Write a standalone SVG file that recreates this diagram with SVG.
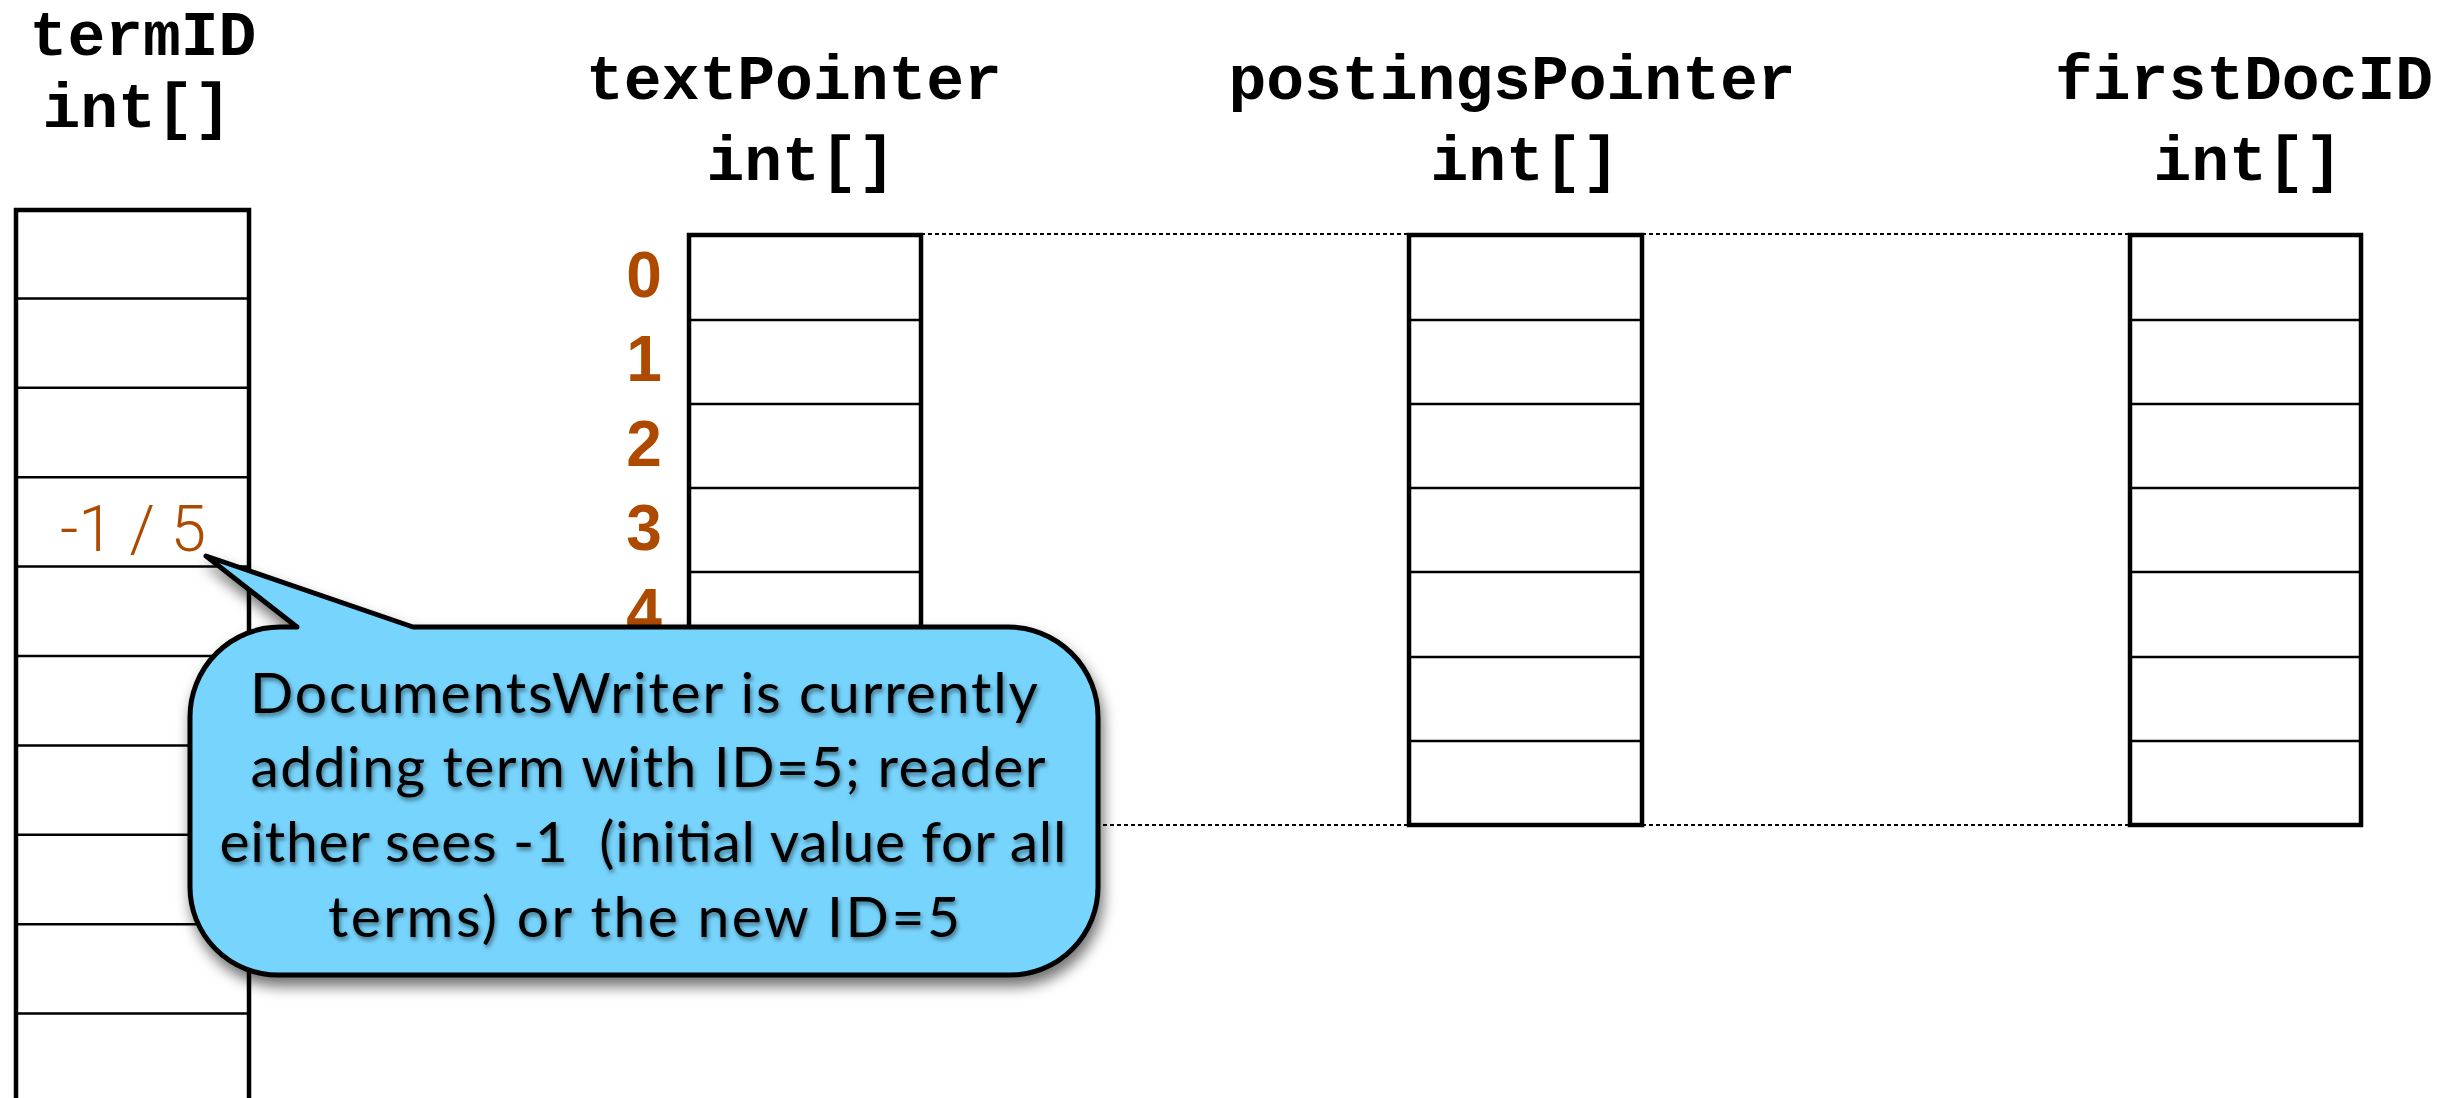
<svg xmlns="http://www.w3.org/2000/svg" width="2463" height="1098" viewBox="0 0 2463 1098">
<style>
.hdr{font-family:"Courier New","Nimbus Mono PS","FreeMono","Liberation Mono",monospace;font-weight:bold;font-size:63px;fill:#000;text-anchor:middle}
.idx{font-family:"Liberation Sans",Arial,sans-serif;font-weight:bold;font-size:64px;fill:#AE4A00;text-anchor:middle}
.val{font-family:Roboto,"Liberation Sans",sans-serif;font-weight:300;font-size:64px;fill:#AE4A00;text-anchor:middle}
.box{fill:#fff;stroke:#000;stroke-width:4.5}
.cell{stroke:#000;stroke-width:2.5}
.dot{stroke:#000;stroke-width:2;stroke-dasharray:4 3;fill:none}
.note{font-family:Lato,"Open Sans",sans-serif;font-size:57px;fill:#000;text-anchor:middle}
</style>
<defs>
<filter id="shadow" x="-10%" y="-20%" width="130%" height="150%">
<feDropShadow dx="3" dy="9" stdDeviation="7" flood-color="#000" flood-opacity="0.55"/>
</filter>
<filter id="tshadow" x="-5%" y="-30%" width="110%" height="160%">
<feDropShadow dx="1.5" dy="3" stdDeviation="2" flood-color="#000" flood-opacity="0.45"/>
</filter>
</defs>
<rect width="2463" height="1098" fill="#fff"/>

<g id="connectors">
<line class="dot" x1="921" y1="234" x2="2130" y2="234"/>
<line class="dot" x1="921" y1="825" x2="2130" y2="825"/>
</g>

<g id="termID">
<text class="hdr" x="143" y="55">termID</text>
<text class="hdr" x="137" y="127">int[]</text>
<rect class="box" x="16" y="210" width="233" height="920"/>
<line class="cell" x1="16" y1="298.4" x2="249" y2="298.4"/>
<line class="cell" x1="16" y1="387.8" x2="249" y2="387.8"/>
<line class="cell" x1="16" y1="477.2" x2="249" y2="477.2"/>
<line class="cell" x1="16" y1="566.6" x2="249" y2="566.6"/>
<line class="cell" x1="16" y1="656" x2="249" y2="656"/>
<line class="cell" x1="16" y1="745.4" x2="249" y2="745.4"/>
<line class="cell" x1="16" y1="834.8" x2="249" y2="834.8"/>
<line class="cell" x1="16" y1="924.2" x2="249" y2="924.2"/>
<line class="cell" x1="16" y1="1013.6" x2="249" y2="1013.6"/>
<text class="val" x="133" y="551">-1 / 5</text>
</g>

<g id="textPointer">
<text class="hdr" x="794" y="99">textPointer</text>
<text class="hdr" x="801" y="180">int[]</text>
<rect class="box" x="689" y="235" width="232" height="590"/>
<line class="cell" x1="689" y1="320" x2="921" y2="320"/>
<line class="cell" x1="689" y1="404" x2="921" y2="404"/>
<line class="cell" x1="689" y1="488" x2="921" y2="488"/>
<line class="cell" x1="689" y1="572" x2="921" y2="572"/>
<line class="cell" x1="689" y1="657" x2="921" y2="657"/>
<line class="cell" x1="689" y1="741" x2="921" y2="741"/>
<text class="idx" x="644" y="297">0</text>
<text class="idx" x="644" y="381">1</text>
<text class="idx" x="644" y="466">2</text>
<text class="idx" x="644" y="550">3</text>
<text class="idx" x="644" y="634">4</text>
</g>

<g id="postingsPointer">
<text class="hdr" x="1512" y="99">postingsPointer</text>
<text class="hdr" x="1525" y="180">int[]</text>
<rect class="box" x="1409" y="235" width="233" height="590"/>
<line class="cell" x1="1409" y1="320" x2="1642" y2="320"/>
<line class="cell" x1="1409" y1="404" x2="1642" y2="404"/>
<line class="cell" x1="1409" y1="488" x2="1642" y2="488"/>
<line class="cell" x1="1409" y1="572" x2="1642" y2="572"/>
<line class="cell" x1="1409" y1="657" x2="1642" y2="657"/>
<line class="cell" x1="1409" y1="741" x2="1642" y2="741"/>
</g>

<g id="firstDocID">
<text class="hdr" x="2244" y="99">firstDocID</text>
<text class="hdr" x="2248" y="180">int[]</text>
<rect class="box" x="2130" y="235" width="231" height="590"/>
<line class="cell" x1="2130" y1="320" x2="2361" y2="320"/>
<line class="cell" x1="2130" y1="404" x2="2361" y2="404"/>
<line class="cell" x1="2130" y1="488" x2="2361" y2="488"/>
<line class="cell" x1="2130" y1="572" x2="2361" y2="572"/>
<line class="cell" x1="2130" y1="657" x2="2361" y2="657"/>
<line class="cell" x1="2130" y1="741" x2="2361" y2="741"/>
</g>

<g id="callout">
<path d="M297,627 L206,556 L413,627 L1008,627 A90,90 0 0 1 1098,717 L1098,887 A88,88 0 0 1 1010,975 L278,975 A88,88 0 0 1 190,887 L190,717 A90,90 0 0 1 280,627 Z" fill="#77D4FD" stroke="#000" stroke-width="5" stroke-linejoin="round" filter="url(#shadow)"/>
<g filter="url(#tshadow)">
<text class="note" x="644" y="713" textLength="788">DocumentsWriter is currently</text>
<text class="note" x="648" y="787" textLength="795">adding term with ID=5; reader</text>
<text class="note" x="643" y="862" textLength="847" xml:space="preserve">either sees -1  (initial value for all</text>
<text class="note" x="644" y="937" textLength="632">terms) or the new ID=5</text>
</g>
</g>
</svg>
